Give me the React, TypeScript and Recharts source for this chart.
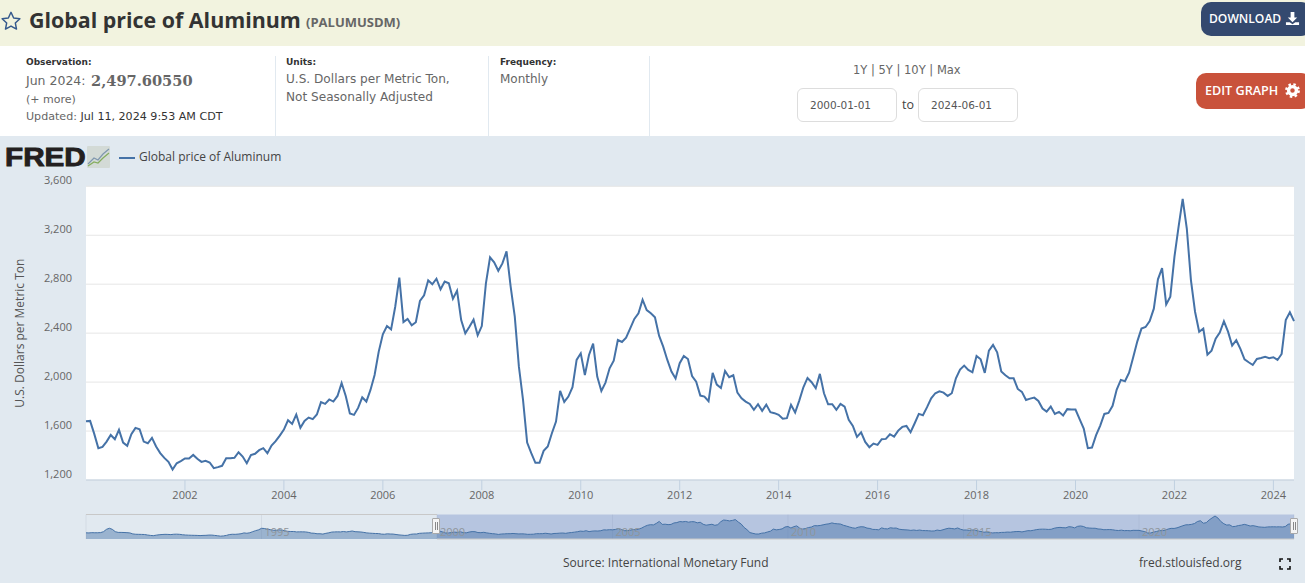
import { CSSProperties } from "react"
import {
    Area, AreaChart, CartesianGrid, Legend, Line, LineChart, ReferenceArea, ReferenceLine, XAxis, YAxis
} from "recharts"

// monthly values, 1990-01 .. 1999-12, only shown in the overview strip
const prices1990s = [
    1480, 1470, 1500, 1490, 1490, 1510, 1620, 1900, 2030, 1900, 1620, 1530,
    1530, 1520, 1500, 1470, 1350, 1310, 1300, 1290, 1280, 1220, 1170, 1140,
    1200, 1250, 1280, 1300, 1290, 1270, 1310, 1320, 1300, 1250, 1220, 1200,
    1190, 1180, 1170, 1150, 1170, 1180, 1210, 1210, 1170, 1130, 1080, 1110,
    1170, 1270, 1310, 1300, 1330, 1370, 1470, 1430, 1490, 1620, 1740, 1840,
    2023, 2000, 1910, 1860, 1790, 1780, 1840, 1800, 1730, 1660, 1640, 1640,
    1590, 1600, 1600, 1590, 1540, 1450, 1430, 1370, 1370, 1330, 1420, 1480,
    1570, 1590, 1600, 1590, 1640, 1590, 1640, 1700, 1620, 1600, 1580, 1530,
    1470, 1440, 1420, 1400, 1390, 1330, 1310, 1360, 1340, 1330, 1280, 1230,
    1200, 1170, 1190, 1300, 1340, 1340, 1420, 1440, 1460, 1470, 1490, 1590,
]

// monthly values, 2000-01 .. 2024-06
const prices = [
    1680, 1683, 1577, 1460, 1470, 1514, 1568, 1533, 1610, 1506, 1479, 1574,
    1626, 1615, 1514, 1500, 1544, 1474, 1420, 1381, 1348, 1286, 1337, 1354,
    1376, 1376, 1405, 1373, 1348, 1357, 1343, 1297, 1305, 1316, 1378, 1378,
    1381, 1427, 1392, 1337, 1403, 1414, 1444, 1460, 1419, 1482, 1517, 1563,
    1612, 1688, 1658, 1735, 1626, 1683, 1710, 1697, 1735, 1836, 1822, 1858,
    1841, 1887, 1993, 1887, 1743, 1732, 1789, 1876, 1841, 1936, 2058, 2249,
    2390, 2458, 2431, 2616, 2853, 2491, 2516, 2464, 2489, 2663, 2709, 2832,
    2799, 2845, 2758, 2821, 2807, 2682, 2747, 2507, 2399, 2453, 2510, 2382,
    2458, 2807, 3019, 2978, 2910, 2970, 3068, 2780, 2535, 2126, 1854, 1506,
    1419, 1340, 1340, 1438, 1474, 1582, 1677, 1928, 1838, 1882, 1958, 2181,
    2235, 2058, 2222, 2314, 2045, 1928, 1996, 2113, 2175, 2344, 2328, 2363,
    2439, 2516, 2562, 2673, 2589, 2562, 2529, 2379, 2290, 2181, 2086, 2029,
    2154, 2214, 2189, 2050, 2004, 1890, 1882, 1844, 2075, 1980, 1952, 2091,
    2040, 2056, 1914, 1868, 1841, 1822, 1773, 1819, 1765, 1816, 1754, 1746,
    1732, 1700, 1705, 1814, 1751, 1849, 1958, 2034, 1999, 1950, 2067, 1909,
    1819, 1819, 1773, 1822, 1800, 1691, 1642, 1552, 1590, 1511, 1468, 1498,
    1487, 1533, 1536, 1574, 1555, 1604, 1634, 1642, 1590, 1664, 1740, 1729,
    1795, 1868, 1909, 1925, 1914, 1887, 1909, 2031, 2102, 2135, 2099, 2080,
    2214, 2186, 2075, 2257, 2304, 2244, 2086, 2056, 2031, 2031, 1944, 1920,
    1854, 1865, 1873, 1846, 1784, 1759, 1800, 1740, 1757, 1727, 1779, 1776,
    1776, 1697, 1620, 1460, 1465, 1566, 1645, 1740, 1748, 1806, 1939, 2018,
    2007, 2077, 2203, 2333, 2437, 2450, 2499, 2600, 2840, 2932, 2635, 2698,
    3024, 3269, 3498, 3255, 2834, 2575, 2412, 2437, 2224, 2257, 2355, 2404,
    2497, 2412, 2298, 2342, 2271, 2186, 2162, 2140, 2189, 2197, 2206, 2195,
    2203, 2181, 2230, 2507, 2570, 2498,
]

const yTicks = [1200, 1600, 2000, 2400, 2800, 3200, 3600]
const xTicks = ["2002", "2004", "2006", "2008", "2010", "2012", "2014", "2016", "2018", "2020", "2022", "2024"]
const overviewTicks = ["1995", "2000", "2005", "2010", "2015", "2020"]

const monthLabel = (start: number, i: number) => {
    const y = start + Math.floor(i / 12)
    return `${y}-${String((i % 12) + 1).padStart(2, "0")}`
}

const mainData = prices.map((value, i) => ({ date: monthLabel(2000, i), value }))
const overviewData = [...prices1990s, ...prices].map((value, i) => ({ date: monthLabel(1990, i), value }))

const SANS = "'Open Sans', sans-serif"
const UI = "'DejaVu Sans', sans-serif"
const LINE = "#4572a7"

function T({ x, y, size = 11, color = "#555", bold, font = UI, children, style }: {
    x: number, y: number, size?: number, color?: string, bold?: boolean, font?: string, children: any, style?: CSSProperties
}) {
    // y is the vertical centre of the text
    return (
        <div style={{
            position: "absolute", left: x, top: y, transform: "translateY(-50%)", fontSize: size, color,
            fontWeight: bold ? 700 : 400, fontFamily: font, whiteSpace: "nowrap", lineHeight: 1, ...style
        }}>
            {children}
        </div>
    )
}

function Box({ x, y, w, h, style, children }: { x: number, y: number, w: number, h: number, style?: CSSProperties, children?: any }) {
    return <div style={{ position: "absolute", left: x, top: y, width: w, height: h, boxSizing: "border-box", ...style }}>{children}</div>
}

function Handle({ x }: { x: number }) {
    return (
        <Box x={x} y={518} w={8} h={16} style={{ background: "#f4f4f4", border: "1px solid #a9a9a9", borderRadius: 1 }}>
            <Box x={1.5} y={3} w={1} h={8} style={{ background: "#888" }} />
            <Box x={3.5} y={3} w={1} h={8} style={{ background: "#888" }} />
        </Box>
    )
}

function OverviewTick({ x, y, payload }: any) {
    return (
        <text x={x + 3} y={y - 11} fontSize={11} fontFamily={SANS} fill="#8f959b">
            {payload.value.slice(0, 4)}
        </text>
    )
}

export default function App() {
    return (
        <div style={{ position: "absolute", left: 0, top: 0, width: 1305, height: 583, overflow: "hidden", background: "#fff" }}>
            {/* title band */}
            <Box x={0} y={0} w={1305} h={46} style={{ background: "#f2f3df" }} />
            <svg style={{ position: "absolute", left: 0, top: 10 }} width={22} height={22} viewBox="0 0 24 24">
                <path d="M12 2.5l2.9 6.2 6.8.8-5 4.6 1.3 6.7-6-3.3-6 3.3 1.3-6.7-5-4.6 6.8-.8z" fill="none" stroke="#34588c" strokeWidth={1.6} strokeLinejoin="round" />
            </svg>
            <T x={29} y={20} size={21.4} bold font={SANS} color="#333">Global price of Aluminum</T>
            <T x={306} y={22} size={13} bold font={SANS} color="#666">(PALUMUSDM)</T>
            <Box x={1201} y={2} w={110} h={34} style={{ background: "#34496f", borderRadius: 10 }} />
            <T x={1209} y={19} size={12.1} font={SANS} color="#fff" style={{ fontWeight: 600 }}>DOWNLOAD</T>
            <svg style={{ position: "absolute", left: 1285, top: 11 }} width={15} height={15} viewBox="0 0 16 16">
                <path d="M6 1h4v6h3l-5 5-5-5h3zM1 12h4l3 2 3-2h4v3H1z" fill="#fff" />
            </svg>

            {/* notes row */}
            <T x={26} y={62} size={9} bold color="#333">Observation:</T>
            <T x={26} y={81} size={12.5} color="#666">Jun 2024:</T>
            <T x={91} y={81} size={14.6} bold color="#666" style={{ fontFamily: "'DejaVu Serif', serif" }}>2,497.60550</T>
            <T x={26} y={99} size={11} color="#666">(+ more)</T>
            <T x={26} y={117} size={11.1} color="#666">Updated: <span style={{ color: "#333" }}>Jul 11, 2024 9:53 AM CDT</span></T>
            <T x={286} y={62} size={9} bold color="#333">Units:</T>
            <T x={286} y={79} size={12.1} color="#666">U.S. Dollars per Metric Ton,</T>
            <T x={286} y={97} size={12.1} color="#666">Not Seasonally Adjusted</T>
            <T x={500} y={62} size={9} bold color="#333">Frequency:</T>
            <T x={500} y={79} size={12} color="#666">Monthly</T>
            <Box x={275} y={56} w={1} h={80} style={{ background: "#e1e9f0" }} />
            <Box x={488} y={56} w={1} h={80} style={{ background: "#e1e9f0" }} />
            <Box x={649} y={56} w={1} h={80} style={{ background: "#e1e9f0" }} />

            <T x={853} y={70.5} size={11.5} color="#666">1Y | 5Y | 10Y | Max</T>
            <Box x={797} y={88} w={100} h={34} style={{ border: "1px solid #ddd", borderRadius: 6 }} />
            <Box x={918} y={88} w={100} h={34} style={{ border: "1px solid #ddd", borderRadius: 6 }} />
            <T x={810} y={105} size={10.5} color="#555">2000-01-01</T>
            <T x={931} y={105} size={10.5} color="#555">2024-06-01</T>
            <T x={902} y={105} size={12.5} font={SANS} color="#444">to</T>
            <Box x={1196} y={73} w={115} h={36} style={{ background: "#c9523b", borderRadius: 10 }} />
            <T x={1205} y={91} size={12.6} font={SANS} color="#fff" style={{ fontWeight: 600 }}>EDIT GRAPH</T>
            <svg style={{ position: "absolute", left: 1285, top: 83 }} width={15} height={15} viewBox="0 0 16 16">
                <circle cx={8} cy={8} r={4.2} fill="none" stroke="#fff" strokeWidth={3.6} />
                <circle cx={8} cy={8} r={6.6} fill="none" stroke="#fff" strokeWidth={2.6} strokeDasharray="2.6 2.6" />
            </svg>

            {/* chart area */}
            <Box x={0} y={136} w={1305} h={447} style={{ background: "#e1e9f0" }} />
            <T x={5} y={157} size={26.5} bold font={"'Liberation Sans', sans-serif"} color="#231f20" style={{ WebkitTextStroke: "0.9px #231f20", transform: "translateY(-50%) scaleX(1.12)", transformOrigin: "left center" }}>FRED</T>
            <svg style={{ position: "absolute", left: 87, top: 146 }} width={23} height={22} viewBox="0 0 23 22">
                <rect width={23} height={22} fill="#d3dad6" rx={1} />
                <polyline points="1,18 7,12 11,14 16,8 22,3" fill="none" stroke="#7f97ae" strokeWidth={1.2} />
                <polyline points="1,20 7,16 11,17 16,12 22,7" fill="none" stroke="#85ad5e" strokeWidth={1.2} />
            </svg>

            <div style={{ position: "absolute", left: 0, top: 136 }}>
                <LineChart width={1305} height={374} data={mainData} margin={{ top: 50.3, right: 11, bottom: 0, left: 0 }}>
                    <CartesianGrid vertical={false} stroke="#e6e6e6" fill="#fff" />
                    <XAxis
                        dataKey="date"
                        ticks={xTicks.map(y => `${y}-01`)}
                        interval={0}
                        tickFormatter={(d: string) => d.slice(0, 4)}
                        stroke="#c0d0e0"
                        tickSize={10}
                        tickMargin={1}
                        tick={{ fill: "#666", fontSize: 11, fontFamily: SANS }}
                    />
                    <YAxis
                        domain={[1200, 3600]}
                        ticks={yTicks}
                        width={86}
                        axisLine={false}
                        tickLine={false}
                        tickSize={0}
                        tickMargin={14}
                        tickFormatter={(v: number) => v.toLocaleString("en-US")}
                        tick={{ fill: "#666", fontSize: 11, fontFamily: SANS, dy: -6 }}
                        label={{ value: "U.S. Dollars per Metric Ton", angle: -90, position: "insideLeft", offset: 20, fill: "#555", fontSize: 12, fontFamily: SANS, style: { textAnchor: "middle" } }}
                    />
                    <Legend
                        verticalAlign="middle"
                        align="center"
                        iconType="plainline"
                        iconSize={16}
                        wrapperStyle={{ position: "absolute", left: 119, top: 12, width: "auto", fontSize: 12, fontFamily: SANS }}
                        formatter={(v: string) => <span style={{ color: "#444" }}>{v}</span>}
                    />
                    <Line name="Global price of Aluminum" type="linear" dataKey="value" stroke={LINE} strokeWidth={2} dot={false} isAnimationActive={false} />
                </LineChart>
            </div>

            {/* overview strip */}
            <div style={{ position: "absolute", left: 0, top: 505 }}>
                <AreaChart width={1305} height={50} data={overviewData} margin={{ top: 9.5, right: 11, bottom: 0, left: 86 }}>
                    <CartesianGrid horizontal={false} stroke="#d3dbe4" />
                    <XAxis
                        dataKey="date"
                        ticks={overviewTicks.map(y => `${y}-01`)}
                        interval={0}
                        height={16}
                        axisLine={false}
                        tickLine={false}
                        tick={<OverviewTick />}
                    />
                    <YAxis hide domain={[740, 3680]} />
                    <ReferenceArea x1="2000-01" x2="2024-06" y1={740} y2={3680} fill="#6685c2" fillOpacity={0.35} stroke="none" />
                    <ReferenceLine segment={[{ x: "1990-01", y: 3680 }, { x: "2000-01", y: 3680 }]} stroke="#c8c8c8" />
                    <ReferenceLine segment={[{ x: "2000-01", y: 740 }, { x: "2024-06", y: 740 }]} stroke="#c8c8c8" />
                    <Area type="linear" dataKey="value" stroke={LINE} strokeWidth={1} fill={LINE} fillOpacity={0.45} dot={false} isAnimationActive={false} />
                </AreaChart>
            </div>
            <Handle x={432} />
            <Handle x={1290} />

            <T x={563} y={563} size={12} font={SANS} color="#444">Source: International Monetary Fund</T>
            <T x={1139} y={563} size={12} font={SANS} color="#444">fred.stlouisfed.org</T>
            <svg style={{ position: "absolute", left: 1279, top: 558 }} width={12} height={12} viewBox="0 0 12 12">
                <path d="M1 4V1h3M8 1h3v3M11 8v3H8M4 11H1V8" fill="none" stroke="#111" strokeWidth={1.6} />
            </svg>
        </div>
    )
}
